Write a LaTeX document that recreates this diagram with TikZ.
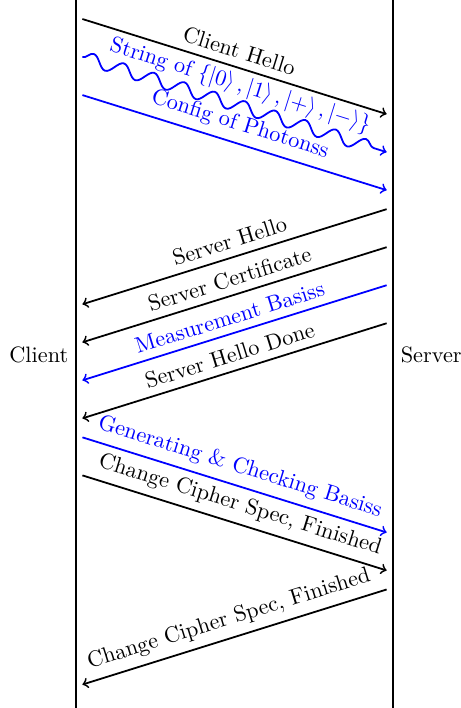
\documentclass[tikz,border=0pt]{standalone}
\usetikzlibrary{decorations.pathmorphing}
\begin{document}
\begin{tikzpicture}[>=to, lifeline/.style={very thick}, msg/.style={->,thick}]
\useasboundingbox (-1.2,0) rectangle (6.07,-11.17);
\draw[lifeline] (0,0) coordinate (ctop) -- (0,-11.17) coordinate (cbot);
\draw[lifeline] (5,0) coordinate (stop) -- (5,-11.17) coordinate (sbot);
\node[left] (client) at (0,-5.6) {Client};
\node[right] (server) at (5,-5.6) {Server};

% client -> server
\foreach \n/\y/\col/\txt in {ch/-0.3/black/{Client Hello}, cp/-1.5/blue/{Config of Photonss},
  gc/-6.9/blue/{Generating \& Checking Basiss}, cf/-7.5/black/{Change Cipher Spec, Finished}}
{
    \coordinate (\n a) at (0.1,\y);
    \coordinate (\n b) at (4.9,\y-1.5);
    \draw[msg,\col] (\n a) -- node[above,sloped]{\txt} (\n b);
}
\coordinate (wsa) at (0.1,-0.9);
\coordinate (wsb) at (4.9,-2.4);
\draw[msg,blue,decorate,decoration={snake,amplitude=1mm,segment length=5mm,post length=1.5mm}] (wsa) --
    node[above,sloped]{String of $\{\left|0\right\rangle,\left|1\right\rangle,\left|+\right\rangle,\left|-\right\rangle\}$} (wsb);

% server -> client
\foreach \n/\y/\col/\txt in {sh/-3.3/black/{Server Hello}, sc/-3.9/black/{Server Certificate},
  mb/-4.5/blue/{Measurement Basiss}, sd/-5.1/black/{Server Hello Done}, sf/-9.3/black/{Change Cipher Spec, Finished}}
{
    \coordinate (\n a) at (4.9,\y);
    \coordinate (\n b) at (0.1,\y-1.5);
    \draw[msg,\col] (\n a) -- node[above,sloped]{\txt} (\n b);
}
\end{tikzpicture}
\end{document}
